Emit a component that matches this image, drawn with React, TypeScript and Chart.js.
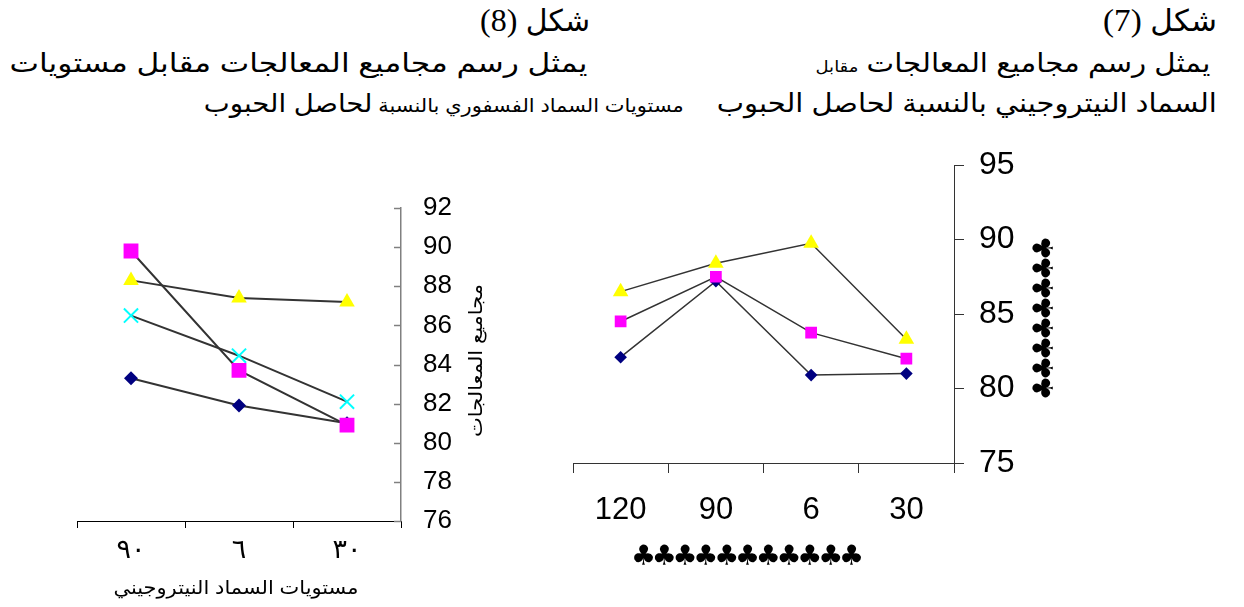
import React, { useEffect, useLayoutEffect, useRef } from 'react';
import { Chart, registerables } from 'chart.js';

Chart.register(...registerables);

// ---- Figure 8: treatment groups vs. nitrogen levels ----
const fig8Levels = ['٩٠', '٦', '٣٠'];
const fig8Diamond = [83.3, 81.9, 81.0];
const fig8Square = [89.8, 83.7, 80.9];
const fig8Triangle = [88.3, 87.4, 87.2];
const fig8Cross = [86.5, 84.45, 82.1];
const fig8YMin = 76;
const fig8YMax = 92;
const fig8YStep = 2;

// ---- Figure 7: treatment groups vs. levels ----
const fig7Levels = ['120', '90', '6', '30'];
const fig7Diamond = [82.1, 87.2, 80.9, 81.0];
const fig7Square = [84.5, 87.5, 83.75, 82.0];
const fig7Triangle = [86.5, 88.4, 89.75, 83.3];
const fig7YMin = 75;
const fig7YMax = 95;
const fig7YStep = 5;

const SANS = '"Liberation Sans", Arial, "DejaVu Sans", sans-serif';
const SERIF = '"Liberation Serif", "Times New Roman", serif';
const LINE = '#333333';

// Axis captions (optionally repeated glyphs) and inward y ticks
const captionPlugin = {
  id: 'captions',
  afterDraw(chart: any, _args: any, opts: any) {
    const { ctx, chartArea } = chart;
    const cx = (chartArea.left + chartArea.right) / 2;
    const cy = (chartArea.top + chartArea.bottom) / 2;
    ctx.save();
    ctx.fillStyle = '#000';
    ctx.textAlign = 'center';
    ctx.textBaseline = 'middle';

    const drawCaption = (c: any) => {
      ctx.font = c.font;
      if (c.repeat) {
        for (let i = 0; i < c.repeat; i++) {
          ctx.fillText(c.text, (i - (c.repeat - 1) / 2) * c.step, 0);
        }
      } else {
        const w = ctx.measureText(c.text).width;
        if (c.width && w > 0) ctx.scale(c.width / w, 1);
        ctx.fillText(c.text, 0, 0);
      }
    };

    if (opts.x) {
      ctx.save();
      ctx.translate(cx + opts.x.dx, chartArea.bottom + opts.x.dy);
      drawCaption(opts.x);
      ctx.restore();
    }
    if (opts.y) {
      ctx.save();
      ctx.translate(chartArea.right + opts.y.dx, cy + opts.y.dy);
      ctx.rotate(-Math.PI / 2);
      drawCaption(opts.y);
      ctx.restore();
    }
    if (opts.innerTicks) {
      const ys = chart.scales.y;
      ctx.strokeStyle = opts.innerTicks.color;
      ctx.lineWidth = opts.innerTicks.width;
      for (const t of ys.ticks) {
        const y = Math.round(ys.getPixelForValue(t.value)) + 0.5;
        ctx.beginPath();
        ctx.moveTo(ys.left - opts.innerTicks.length, y);
        ctx.lineTo(ys.left, y);
        ctx.stroke();
      }
    }
    ctx.restore();
  },
};

const series = (data: number[], style: any, order: number, lineWidth: number) => ({
  data,
  order,
  borderColor: LINE,
  borderWidth: lineWidth,
  fill: false,
  tension: 0,
  ...style,
});

const diamond = (r: number) => ({
  pointStyle: 'rectRot', pointRadius: r, pointBackgroundColor: '#000080', pointBorderColor: '#000080', pointBorderWidth: 0,
});
const square = (r: number) => ({
  pointStyle: 'rect', pointRadius: r, pointBackgroundColor: '#FF00FF', pointBorderColor: '#FF00FF', pointBorderWidth: 0,
});
const triangle = (r: number) => ({
  pointStyle: 'triangle', pointRadius: r, pointBackgroundColor: '#FFFF00', pointBorderColor: '#FFFF00', pointBorderWidth: 0,
});
const cross = (r: number) => ({
  pointStyle: 'crossRot', pointRadius: r, pointBackgroundColor: '#00FFFF', pointBorderColor: '#00FFFF', pointBorderWidth: 2,
});

// keep the plot area exactly where the layout padding puts it
const fixVertical = (width: number) => (s: any) => {
  s.width = width;
  s.paddingTop = 0;
  s.paddingBottom = 0;
};
const fixHorizontal = (height: number) => (s: any) => {
  s.height = height;
  s.paddingLeft = 0;
  s.paddingRight = 0;
};

function buildFig8(): any {
  return {
    type: 'line',
    data: {
      labels: fig8Levels,
      datasets: [
        series(fig8Square, square(10.5), 0, 2),
        series(fig8Diamond, diamond(7), 1, 2),
        series(fig8Cross, cross(10), 2, 2),
        series(fig8Triangle, triangle(9), 3, 2),
      ],
    },
    options: {
      responsive: false,
      animation: false,
      events: [],
      layout: { padding: { left: 17, top: 28, right: 0, bottom: 0 } },
      plugins: {
        legend: { display: false },
        tooltip: { enabled: false },
        captions: {
          x: { text: 'مستويات السماد النيتروجيني', font: `19px ${SANS}`, dx: -3, dy: 68, width: 245 },
          y: { text: 'مجاميع المعالجات', font: `19px ${SANS}`, dx: 76, dy: -4, width: 153 },
          innerTicks: { length: 7, color: '#808080', width: 1.5 },
        },
      },
      scales: {
        x: {
          type: 'category',
          offset: true,
          grid: { offset: true, drawOnChartArea: false, drawTicks: true, tickLength: 7, color: '#000', lineWidth: 1 },
          border: { color: '#000', width: 1 },
          ticks: { padding: 6, color: '#000', font: { family: SANS, size: 27 } },
          afterFit: fixHorizontal(86),
        },
        y: {
          position: 'right',
          min: fig8YMin,
          max: fig8YMax,
          ticks: { stepSize: fig8YStep, padding: 22, color: '#000', font: { family: SANS, size: 26 } },
          grid: { drawOnChartArea: false, drawTicks: false },
          border: { color: '#808080', width: 1.5 },
          afterFit: fixVertical(139),
        },
      },
    },
    plugins: [captionPlugin],
  };
}

function buildFig7(): any {
  return {
    type: 'line',
    data: {
      labels: fig7Levels,
      datasets: [
        series(fig7Square, square(8.3), 0, 1.5),
        series(fig7Diamond, diamond(6.3), 1, 1.5),
        series(fig7Triangle, triangle(9), 2, 1.5),
      ],
    },
    options: {
      responsive: false,
      animation: false,
      events: [],
      layout: { padding: { left: 13, top: 25, right: 0, bottom: 0 } },
      plugins: {
        legend: { display: false },
        tooltip: { enabled: false },
        captions: {
          x: { text: '♣', repeat: 11, step: 20.8, font: `28px "DejaVu Sans", sans-serif`, dx: -16, dy: 95 },
          y: { text: '♣', repeat: 8, step: 20, font: `28px "DejaVu Sans", sans-serif`, dx: 92, dy: 4 },
        },
      },
      scales: {
        x: {
          type: 'category',
          offset: true,
          grid: { offset: true, drawOnChartArea: false, drawTicks: true, tickLength: 10, color: '#333', lineWidth: 1 },
          border: { color: '#333', width: 1 },
          ticks: { padding: 19, color: '#000', font: { family: SANS, size: 31 } },
          afterFit: fixHorizontal(144),
        },
        y: {
          position: 'right',
          min: fig7YMin,
          max: fig7YMax,
          ticks: { stepSize: fig7YStep, padding: 15, color: '#000', font: { family: SANS, size: 32 } },
          grid: { drawOnChartArea: false, drawTicks: true, tickLength: 10, color: '#333', lineWidth: 1 },
          border: { color: '#333', width: 1 },
          afterFit: fixVertical(126),
        },
      },
    },
    plugins: [captionPlugin],
  };
}

type ChartBoxProps = { left: number; top: number; width: number; height: number; build: () => any };

function ChartBox({ left, top, width, height, build }: ChartBoxProps) {
  const ref = useRef<HTMLCanvasElement>(null);
  useEffect(() => {
    if (!ref.current) return;
    const chart = new Chart(ref.current, build());
    return () => chart.destroy();
  }, [build]);
  return (
    <div style={{ position: 'absolute', left, top, width, height }}>
      <canvas ref={ref} width={width} height={height} style={{ display: 'block' }} />
    </div>
  );
}

type TitleLineProps = { right: number; cy: number; width: number; height: number; children: React.ReactNode };

// A right-aligned RTL heading line, stretched to a fixed width
function TitleLine({ right, cy, width, height, children }: TitleLineProps) {
  const ref = useRef<HTMLSpanElement>(null);
  useLayoutEffect(() => {
    const el = ref.current;
    if (!el) return;
    el.style.transform = 'none';
    const w = el.getBoundingClientRect().width;
    if (w > 0) el.style.transform = `scaleX(${width / w})`;
  }, [width]);
  return (
    <div
      dir="rtl"
      style={{
        position: 'absolute',
        right: 1244 - right,
        top: cy - height / 2,
        height,
        lineHeight: `${height}px`,
        whiteSpace: 'nowrap',
        color: '#000',
      }}
    >
      <span ref={ref} style={{ display: 'inline-block', transformOrigin: 'right center' }}>
        {children}
      </span>
    </div>
  );
}

export default function App() {
  return (
    <div
      style={{
        position: 'fixed',
        left: 0,
        top: 0,
        width: 1244,
        height: 607,
        background: '#fff',
        overflow: 'hidden',
        fontFamily: SANS,
      }}
    >
      {/* Figure 8 heading */}
      <TitleLine right={590} cy={20} width={110} height={40}>
        <span style={{ fontSize: 30 }}>شكل </span>
        <span style={{ fontSize: 32, fontFamily: SERIF }}>(8)</span>
      </TitleLine>
      <TitleLine right={588} cy={63} width={578} height={36}>
        <span style={{ fontSize: 26 }}>يمثل رسم مجاميع المعالجات مقابل مستويات</span>
      </TitleLine>
      <TitleLine right={684} cy={103} width={480} height={36}>
        <span style={{ fontSize: 19 }}>مستويات السماد الفسفوري بالنسبة </span>
        <span style={{ fontSize: 25 }}>لحاصل الحبوب</span>
      </TitleLine>

      {/* Figure 7 heading */}
      <TitleLine right={1217} cy={20} width={114} height={40}>
        <span style={{ fontSize: 30 }}>شكل </span>
        <span style={{ fontSize: 32, fontFamily: SERIF }}>(7)</span>
      </TitleLine>
      <TitleLine right={1210} cy={63} width={395} height={36}>
        <span style={{ fontSize: 26 }}>يمثل رسم مجاميع المعالجات </span>
        <span style={{ fontSize: 16 }}> مقابل</span>
      </TitleLine>
      <TitleLine right={1217} cy={103} width={500} height={36}>
        <span style={{ fontSize: 26 }}>السماد النيتروجيني بالنسبة لحاصل الحبوب</span>
      </TitleLine>

      <ChartBox left={60} top={180} width={480} height={427} build={buildFig8} />
      <ChartBox left={560} top={140} width={520} height={467} build={buildFig7} />
    </div>
  );
}
